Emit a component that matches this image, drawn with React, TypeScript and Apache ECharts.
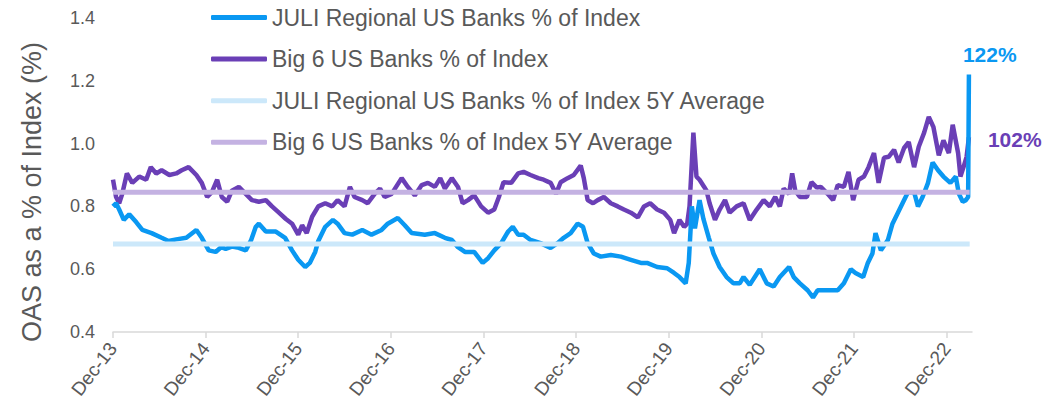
import React, { useEffect, useRef } from "react";
import * as echarts from "echarts";

// x values are months since Dec-2013
const juliMonths = [
  0, 0.4, 0.8, 1.4, 2.1, 3, 3.8, 5, 6.3, 7.2, 8.2, 9.5, 10.8, 11.5, 12.4, 13.3, 14, 14.6, 15.4, 16.3,
  17.2, 17.9, 18.5, 18.9, 19.8, 21.1, 22.3, 23.2, 24, 24.9, 25.5, 26.2, 26.6, 27.5, 28.5, 29.1, 30, 31,
  32.3, 33.5, 34.8, 35.6, 36.9, 37.8, 38.7, 40.4, 41.7, 43, 43.9, 44.7, 45.6, 46.8, 47.9, 48.6, 49.4,
  50.3, 51.2, 51.8, 52.5, 53.2, 54.1, 55.4, 56.7, 57.6, 58.4, 59.3, 60.2, 60.9, 61.5, 62.3, 63.2, 64.5,
  65.8, 67.1, 68.4, 69.2, 70.5, 71.8, 72.7, 73.4, 74.2, 74.6, 75, 75.4, 76, 76.5, 77.2, 77.8, 78.6,
  79.5, 80.4, 81.2, 81.7, 82.5, 83.8, 84.7, 85.6, 86.4, 87.6, 88.2, 89, 90, 90.7, 91.3, 92.6, 93.9,
  94.7, 95.6, 96.2, 97.2, 97.8, 98.4, 98.8, 99.5, 100.4, 101, 101.7, 102.3, 103, 103.8, 104.3, 104.9,
  105.6, 106.2, 106.9, 107.6, 108.5, 109.2, 109.6, 110.1, 110.5, 110.8, 110.9,
];
const juliValues = [
  0.8, 0.81, 0.79, 0.757, 0.775, 0.75, 0.725, 0.715, 0.7, 0.69, 0.695, 0.7, 0.725, 0.7, 0.66, 0.655, 0.67,
  0.665, 0.672, 0.668, 0.66, 0.693, 0.735, 0.745, 0.72, 0.72, 0.7, 0.66, 0.63, 0.607, 0.62, 0.655, 0.69,
  0.735, 0.757, 0.745, 0.715, 0.71, 0.725, 0.71, 0.725, 0.745, 0.763, 0.74, 0.715, 0.71, 0.715, 0.7,
  0.693, 0.67, 0.655, 0.655, 0.62, 0.635, 0.66, 0.683, 0.72, 0.735, 0.71, 0.71, 0.693, 0.683, 0.668,
  0.683, 0.7, 0.715, 0.745, 0.735, 0.683, 0.65, 0.64, 0.645, 0.64, 0.63, 0.62, 0.62, 0.607, 0.603,
  0.588, 0.575, 0.555, 0.62, 0.8, 0.73, 0.82, 0.76, 0.7, 0.65, 0.607, 0.575, 0.555, 0.555, 0.575, 0.55,
  0.6, 0.555, 0.545, 0.575, 0.607, 0.575, 0.555, 0.533, 0.51, 0.533, 0.533, 0.533, 0.555, 0.6, 0.588,
  0.575, 0.62, 0.65, 0.715, 0.66, 0.693, 0.745, 0.78, 0.81, 0.845, 0.845, 0.8, 0.83, 0.875, 0.94, 0.915,
  0.895, 0.875, 0.895, 0.84, 0.815, 0.82, 0.83, 1.22,
];

const big6Months = [
  0, 0.4, 0.8, 1.2, 1.8, 2.5, 3.4, 4.3, 4.9, 5.6, 6.3, 7.3, 8.2, 8.9, 9.8, 10.8, 11.5, 12.2, 12.8, 13.5,
  14.1, 14.8, 15.4, 16.3, 17.2, 18, 18.9, 19.8, 20.6, 21.5, 22.4, 23.2, 24, 24.5, 25.1, 25.8, 26.6,
  27.5, 28.4, 29.1, 30, 30.7, 31.3, 32.3, 33, 33.9, 34.6, 35.2, 36.1, 37.4, 38.2, 39.1, 40, 40.8, 41.7,
  42.4, 43, 43.9, 44.7, 45.3, 46, 46.8, 47.7, 48.6, 49.4, 50, 50.6, 51.6, 52.5, 53.2, 54.1, 55.1, 55.8,
  56.7, 57.4, 58, 58.9, 59.7, 60.6, 61, 61.5, 62.2, 62.8, 63.6, 64.5, 65.4, 66.2, 67.1, 68, 68.8, 69.6,
  70.5, 71.4, 72.2, 72.7, 73.4, 74, 74.4, 74.7, 75.2, 75.6, 76, 76.6, 76.9, 77.3, 78, 78.6, 79.3, 79.9,
  80.8, 81.7, 82.5, 83.4, 84.3, 85.1, 85.8, 86.4, 86.9, 87.6, 88, 88.4, 89, 89.9, 90.5, 91.2, 91.7,
  92.6, 93.3, 93.9, 94.7, 95.3, 95.9, 96.6, 97.3, 97.9, 98.6, 99.2, 99.9, 100.5, 101.2, 101.8, 102.5,
  103.1, 103.8, 104.4, 105.1, 105.7, 106.3, 107, 107.6, 108.3, 108.8, 109.5, 109.8, 110.2, 110.6, 110.9,
];
const big6Values = [
  0.885, 0.83, 0.81, 0.84, 0.905, 0.875, 0.895, 0.885, 0.925, 0.905, 0.915, 0.9, 0.905, 0.915, 0.925,
  0.9, 0.875, 0.83, 0.845, 0.885, 0.83, 0.815, 0.85, 0.862, 0.84, 0.82, 0.815, 0.82, 0.8, 0.78, 0.76,
  0.745, 0.71, 0.74, 0.715, 0.767, 0.8, 0.81, 0.8, 0.82, 0.8, 0.862, 0.83, 0.82, 0.81, 0.84, 0.857,
  0.83, 0.84, 0.89, 0.862, 0.835, 0.868, 0.875, 0.862, 0.89, 0.857, 0.89, 0.862, 0.81, 0.82, 0.835,
  0.8, 0.78, 0.79, 0.83, 0.877, 0.875, 0.905, 0.91, 0.9, 0.89, 0.885, 0.875, 0.84, 0.877, 0.89, 0.9,
  0.93, 0.89, 0.82, 0.81, 0.82, 0.83, 0.81, 0.8, 0.79, 0.78, 0.765, 0.8, 0.81, 0.79, 0.78, 0.757,
  0.715, 0.757, 0.735, 0.745, 0.8, 1.035, 0.895, 0.885, 0.862, 0.85, 0.81, 0.757, 0.79, 0.82, 0.78,
  0.8, 0.81, 0.757, 0.79, 0.82, 0.8, 0.83, 0.8, 0.857, 0.84, 0.905, 0.85, 0.83, 0.83, 0.877, 0.86,
  0.862, 0.84, 0.82, 0.868, 0.862, 0.91, 0.82, 0.885, 0.895, 0.925, 0.97, 0.875, 0.955, 0.958, 0.98,
  0.94, 0.986, 1.005, 0.925, 0.99, 1.035, 1.085, 1.053, 0.963, 1.01, 0.97, 1.06, 0.97, 0.895, 0.925,
  0.958, 1.02,
];

const juliAvg = 0.68;
const big6Avg = 0.845;
const avgSpan = [0, 111];

const seriesNames = [
  "JULI Regional US Banks % of Index",
  "Big 6 US Banks % of Index",
  "JULI Regional US Banks % of Index 5Y Average",
  "Big 6 US Banks % of Index 5Y Average",
];

const tickYears = [13, 14, 15, 16, 17, 18, 19, 20, 21, 22];

const FONT = "'Liberation Sans', Arial, sans-serif";
const GREY = "#595959";
const C_BLUE = "#0A98F2";
const C_PURPLE = "#6A3FB6";
const C_LBLUE = "#CCE8FA";
const C_LPURPLE = "#C4B2E2";

export default function App() {
  const ref = useRef<HTMLDivElement>(null);
  useEffect(() => {
    if (!ref.current) return;
    const chart = echarts.init(ref.current, null, { renderer: "svg" });
    const tickMonths = tickYears.map((_, i) => i * 12);
    const pct = (p: any) => Math.round(p.value[1] * 100) + "%";
    chart.setOption({
      animation: false,
      textStyle: { fontFamily: FONT },
      grid: { left: 113, right: 81, top: 18, bottom: 80, containLabel: false },
      legend: {
        orient: "vertical",
        left: 211,
        top: 6,
        padding: 0,
        itemGap: 18.6,
        itemWidth: 56,
        itemHeight: 5,
        icon: "roundRect",
        textStyle: { fontSize: 23, color: GREY, fontFamily: FONT },
        data: seriesNames,
      },
      xAxis: {
        type: "value",
        min: 0,
        max: 111.3,
        interval: 12,
        axisLine: { show: true, lineStyle: { color: "#D9D9D9", width: 1.5 } },
        axisTick: {
          show: true,
          length: 6,
          lineStyle: { color: "#D9D9D9", width: 1.5 },
          customValues: tickMonths,
        },
        splitLine: { show: false },
        axisLabel: {
          rotate: 52,
          margin: 13,
          fontSize: 19,
          color: GREY,
          fontFamily: FONT,
          customValues: tickMonths,
          formatter: (v: number) => "Dec-" + tickYears[Math.round(v / 12)],
        },
      },
      yAxis: {
        type: "value",
        min: 0.4,
        max: 1.4,
        interval: 0.2,
        name: "OAS as a % of Index (%)",
        nameLocation: "middle",
        nameGap: 68,
        nameTextStyle: { fontSize: 27, color: GREY, fontFamily: FONT, padding: [0, 0, 0, -34] },
        axisLine: { show: false },
        axisTick: { show: false },
        splitLine: { show: false },
        axisLabel: {
          margin: 18,
          fontSize: 18,
          color: GREY,
          fontFamily: FONT,
          formatter: (v: number) => v.toFixed(1),
        },
      },
      series: [
        {
          name: seriesNames[0],
          type: "line",
          showSymbol: false,
          symbol: "none",
          lineStyle: { color: C_BLUE, width: 4.5 },
          itemStyle: { color: C_BLUE },
          data: juliMonths.map((m, i) => [m, juliValues[i]]),
          endLabel: {
            show: true,
            formatter: pct,
            color: C_BLUE,
            fontWeight: "bold",
            fontSize: 21,
            fontFamily: FONT,
            offset: [-14, -20],
          },
          z: 3,
        },
        {
          name: seriesNames[1],
          type: "line",
          showSymbol: false,
          symbol: "none",
          lineStyle: { color: C_PURPLE, width: 4.5 },
          itemStyle: { color: C_PURPLE },
          data: big6Months.map((m, i) => [m, big6Values[i]]),
          endLabel: {
            show: true,
            formatter: pct,
            color: C_PURPLE,
            fontWeight: "bold",
            fontSize: 21,
            fontFamily: FONT,
            offset: [11, 2],
          },
          z: 2,
        },
        {
          name: seriesNames[2],
          type: "line",
          showSymbol: false,
          symbol: "none",
          lineStyle: { color: C_LBLUE, width: 5 },
          itemStyle: { color: C_LBLUE },
          data: avgSpan.map((m) => [m, juliAvg]),
          z: 4,
        },
        {
          name: seriesNames[3],
          type: "line",
          showSymbol: false,
          symbol: "none",
          lineStyle: { color: C_LPURPLE, width: 5 },
          itemStyle: { color: C_LPURPLE },
          data: avgSpan.map((m) => [m, big6Avg]),
          z: 4,
        },
      ],
    });
    return () => chart.dispose();
  }, []);
  return (
    <div
      ref={ref}
      style={{ position: "absolute", left: 0, top: 0, width: 1053, height: 412, background: "#fff" }}
    />
  );
}
